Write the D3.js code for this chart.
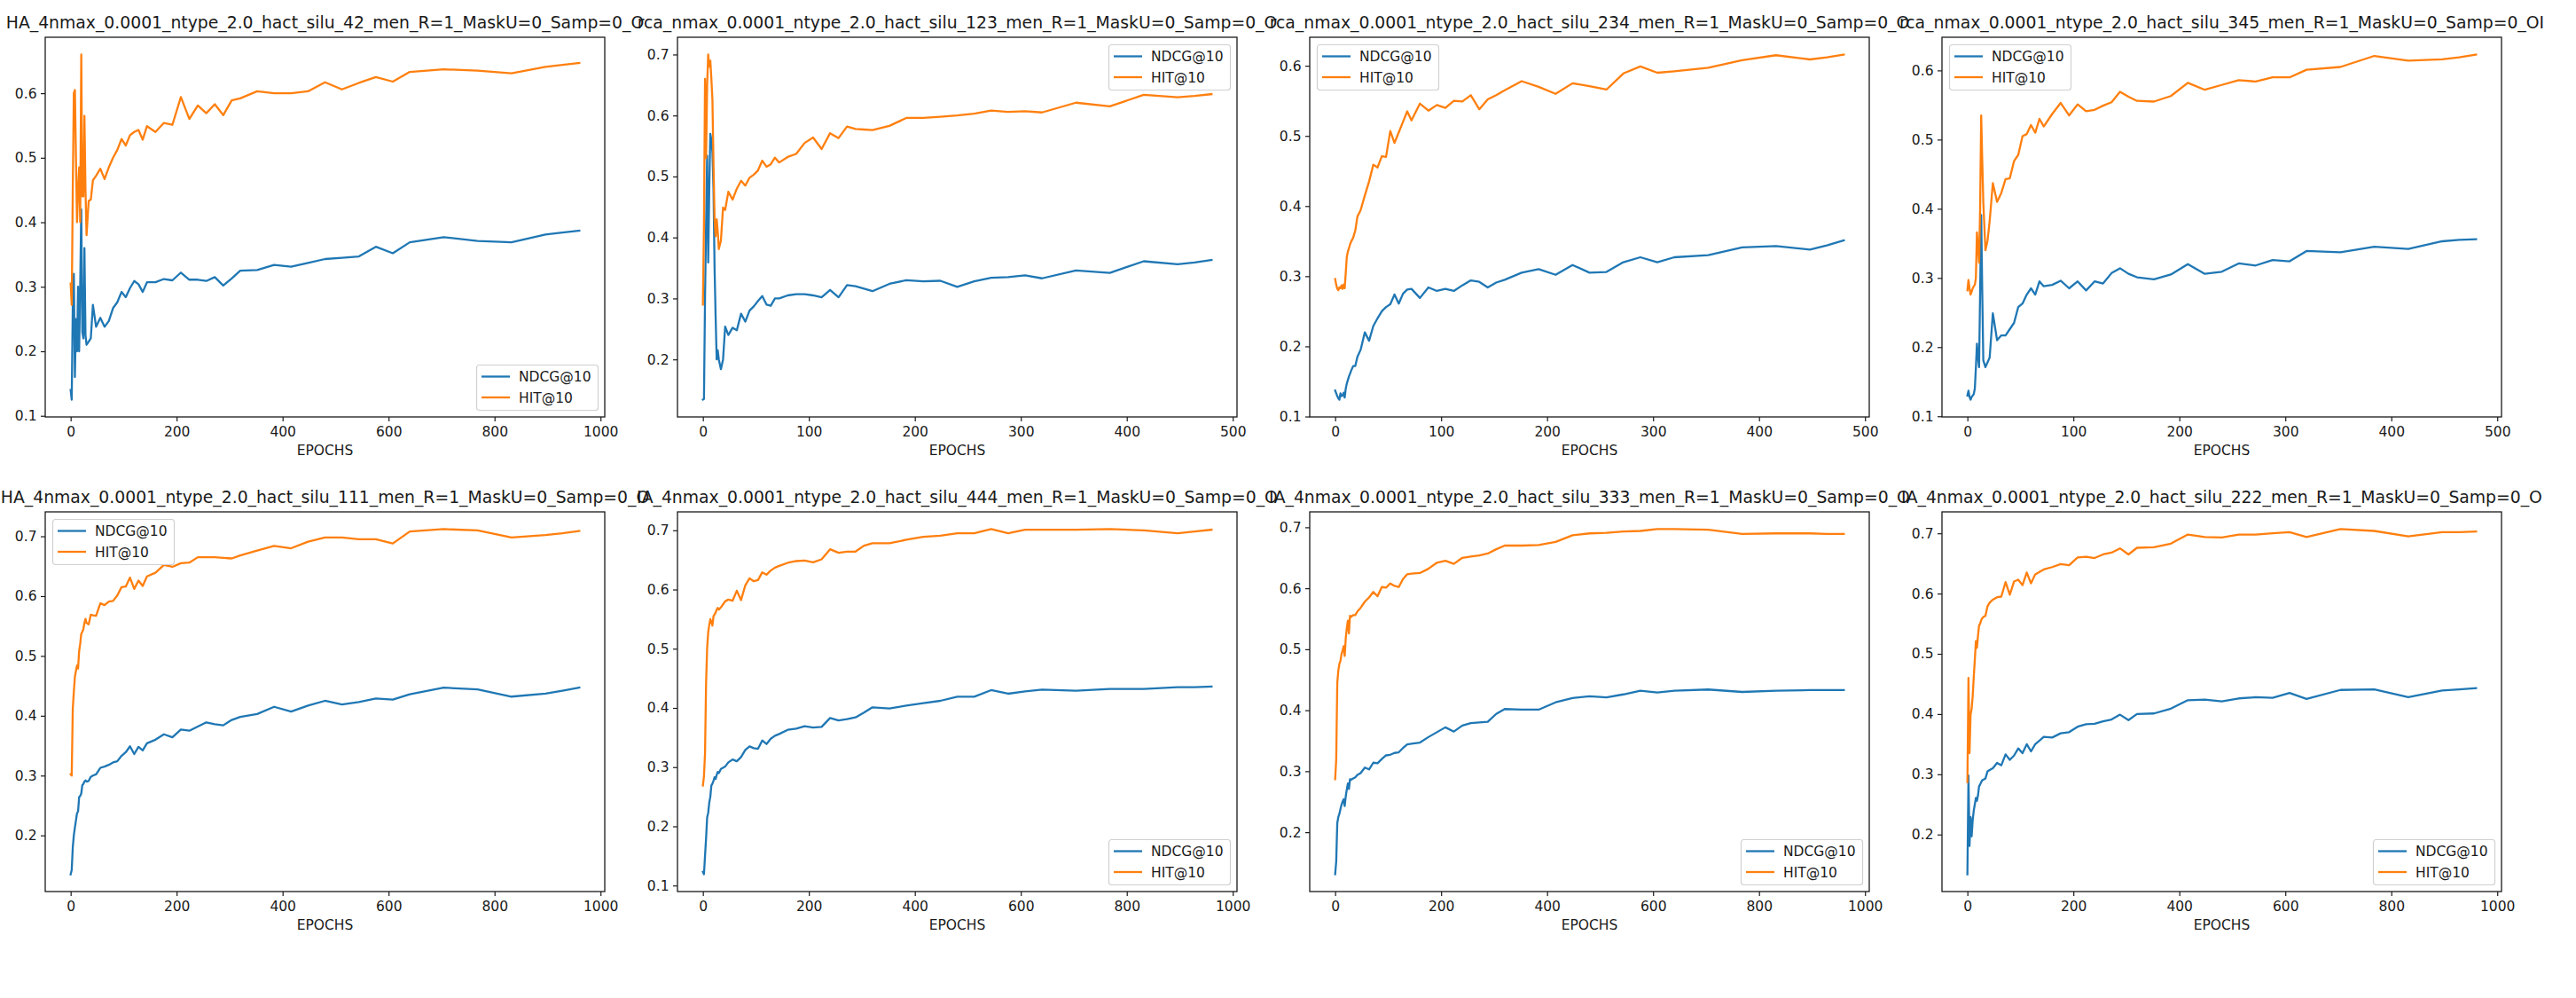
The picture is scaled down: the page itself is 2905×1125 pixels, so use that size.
<!DOCTYPE html>
<html>
<head>
<meta charset="utf-8">
<script src="https://cdn.jsdelivr.net/npm/d3@7"></script>
<style>
html, body { margin: 0; padding: 0; background: #fff; }
svg { display: block; font-family: "DejaVu Sans", sans-serif; }
</style>
</head>
<body>
<div id="chart"></div>
<script>
// figure size in px
let width = 2905;
let height = 1125;

// evaluation schedules (x values)
const epochsLong = [0,2,4,6,8,10,12,14,16,18,20,22,24,26,28,30,34,38,42,48,56,64,72,80,88,96,104,112,120,128,136,144,160,176,192,208,224,240,256,272,288,304,320,352,384,416,448,480,512,544,576,608,640,704,768,832,896,928,960];
const epochsShort = [0,1,2,3,4,5,6,7,8,9,10,11,12,13,14,15,17,19,21,24,28,32,36,40,44,48,52,56,60,64,68,72,80,88,96,104,112,120,128,136,144,152,160,176,192,208,224,240,256,272,288,304,320,352,384,416,448,464,480];

const xTicksLong = [0, 200, 400, 600, 800, 1000];
const xTicksShort = [0, 100, 200, 300, 400, 500];
const yTicks = [0.1, 0.2, 0.3, 0.4, 0.5, 0.6, 0.7];

const seriesNames = ["NDCG@10", "HIT@10"];
const seriesColors = ["#1f77b4", "#ff7f0e"];

const titles = [
    "HA_4nmax_0.0001_ntype_2.0_hact_silu_42_men_R=1_MaskU=0_Samp=0_O",
    "rca_nmax_0.0001_ntype_2.0_hact_silu_123_men_R=1_MaskU=0_Samp=0_O",
    "rca_nmax_0.0001_ntype_2.0_hact_silu_234_men_R=1_MaskU=0_Samp=0_O",
    "rca_nmax_0.0001_ntype_2.0_hact_silu_345_men_R=1_MaskU=0_Samp=0_OI",
    "HA_4nmax_0.0001_ntype_2.0_hact_silu_111_men_R=1_MaskU=0_Samp=0_O",
    "IA_4nmax_0.0001_ntype_2.0_hact_silu_444_men_R=1_MaskU=0_Samp=0_O",
    "IA_4nmax_0.0001_ntype_2.0_hact_silu_333_men_R=1_MaskU=0_Samp=0_O",
    "IA_4nmax_0.0001_ntype_2.0_hact_silu_222_men_R=1_MaskU=0_Samp=0_O",
];

// top row
const ndcg42 = [0.140,0.125,0.270,0.320,0.160,0.250,0.200,0.300,0.200,0.300,0.420,0.230,0.220,0.360,0.225,0.210,0.215,0.220,0.272,0.238,0.252,0.238,0.247,0.267,0.276,0.292,0.284,0.298,0.309,0.304,0.292,0.307,0.307,0.312,0.310,0.322,0.311,0.311,0.309,0.315,0.302,0.313,0.325,0.326,0.334,0.331,0.337,0.343,0.345,0.347,0.362,0.352,0.369,0.377,0.371,0.369,0.381,0.384,0.387];
const hit42 = [0.305,0.272,0.450,0.600,0.605,0.500,0.400,0.450,0.485,0.400,0.660,0.440,0.440,0.565,0.450,0.380,0.433,0.435,0.465,0.472,0.483,0.467,0.485,0.500,0.512,0.529,0.519,0.535,0.540,0.543,0.528,0.549,0.540,0.554,0.551,0.594,0.560,0.581,0.569,0.583,0.566,0.589,0.592,0.603,0.600,0.600,0.603,0.617,0.606,0.616,0.625,0.618,0.633,0.637,0.635,0.631,0.641,0.644,0.647];

const ndcg123 = [0.134,0.135,0.300,0.420,0.534,0.359,0.480,0.570,0.560,0.540,0.480,0.350,0.270,0.200,0.215,0.200,0.184,0.200,0.254,0.240,0.252,0.248,0.275,0.262,0.280,0.287,0.296,0.304,0.290,0.288,0.300,0.300,0.305,0.307,0.307,0.305,0.302,0.314,0.302,0.322,0.320,0.316,0.312,0.324,0.330,0.328,0.329,0.319,0.328,0.334,0.335,0.338,0.333,0.346,0.342,0.361,0.356,0.359,0.363];
const hit123 = [0.290,0.420,0.660,0.530,0.650,0.700,0.680,0.690,0.660,0.625,0.520,0.430,0.402,0.430,0.410,0.381,0.395,0.449,0.445,0.475,0.462,0.480,0.493,0.485,0.498,0.503,0.510,0.526,0.516,0.520,0.531,0.523,0.532,0.537,0.555,0.564,0.545,0.571,0.563,0.582,0.578,0.577,0.576,0.583,0.596,0.596,0.598,0.600,0.603,0.608,0.606,0.607,0.605,0.621,0.615,0.634,0.630,0.632,0.635];

const ndcg234 = [0.137,0.133,0.129,0.126,0.124,0.133,0.129,0.130,0.134,0.127,0.140,0.147,0.152,0.157,0.161,0.165,0.172,0.172,0.185,0.195,0.220,0.208,0.229,0.240,0.250,0.256,0.260,0.274,0.261,0.275,0.281,0.282,0.269,0.284,0.279,0.282,0.279,0.287,0.294,0.292,0.284,0.291,0.295,0.305,0.310,0.302,0.316,0.305,0.306,0.320,0.327,0.320,0.327,0.330,0.341,0.343,0.338,0.344,0.351];
const hit234 = [0.296,0.288,0.282,0.280,0.284,0.283,0.287,0.282,0.288,0.283,0.305,0.328,0.335,0.340,0.345,0.349,0.355,0.365,0.385,0.394,0.415,0.435,0.459,0.455,0.471,0.470,0.507,0.490,0.505,0.520,0.535,0.522,0.546,0.536,0.544,0.540,0.550,0.549,0.558,0.538,0.552,0.558,0.565,0.578,0.570,0.560,0.575,0.571,0.566,0.589,0.599,0.590,0.592,0.597,0.608,0.615,0.609,0.612,0.616];

const ndcg345 = [0.130,0.137,0.128,0.124,0.128,0.130,0.132,0.140,0.170,0.205,0.185,0.171,0.280,0.391,0.280,0.181,0.171,0.178,0.185,0.249,0.210,0.217,0.217,0.226,0.235,0.258,0.263,0.276,0.285,0.276,0.295,0.288,0.290,0.296,0.285,0.295,0.282,0.295,0.292,0.307,0.314,0.306,0.301,0.298,0.305,0.320,0.306,0.309,0.321,0.318,0.326,0.324,0.339,0.337,0.345,0.342,0.353,0.355,0.356];
const hit345 = [0.282,0.297,0.285,0.276,0.280,0.285,0.288,0.290,0.300,0.366,0.345,0.322,0.400,0.535,0.470,0.409,0.340,0.354,0.382,0.437,0.410,0.423,0.443,0.444,0.469,0.478,0.505,0.508,0.521,0.510,0.530,0.519,0.537,0.553,0.535,0.551,0.541,0.543,0.549,0.554,0.569,0.562,0.556,0.555,0.563,0.582,0.572,0.579,0.586,0.584,0.590,0.590,0.601,0.605,0.621,0.614,0.616,0.619,0.623];

// bottom row
const ndcg111 = [0.135,0.142,0.180,0.200,0.213,0.225,0.237,0.240,0.264,0.266,0.270,0.284,0.286,0.290,0.292,0.290,0.291,0.298,0.300,0.302,0.313,0.315,0.318,0.322,0.324,0.333,0.339,0.349,0.336,0.348,0.342,0.354,0.360,0.369,0.364,0.377,0.375,0.382,0.389,0.386,0.384,0.393,0.398,0.403,0.415,0.407,0.417,0.425,0.419,0.423,0.429,0.427,0.436,0.447,0.444,0.432,0.437,0.442,0.447];
const hit111 = [0.302,0.300,0.412,0.440,0.465,0.475,0.484,0.479,0.508,0.520,0.537,0.540,0.545,0.555,0.562,0.555,0.553,0.569,0.568,0.567,0.588,0.585,0.591,0.592,0.601,0.615,0.616,0.631,0.612,0.626,0.617,0.633,0.639,0.652,0.649,0.655,0.656,0.665,0.665,0.665,0.664,0.663,0.668,0.676,0.684,0.680,0.691,0.698,0.698,0.695,0.695,0.688,0.708,0.712,0.710,0.698,0.702,0.705,0.709];

const ndcg444 = [0.123,0.119,0.150,0.180,0.215,0.223,0.240,0.250,0.269,0.272,0.277,0.283,0.280,0.287,0.292,0.290,0.297,0.299,0.301,0.308,0.313,0.310,0.317,0.329,0.335,0.332,0.331,0.345,0.339,0.348,0.353,0.356,0.363,0.365,0.369,0.367,0.368,0.383,0.379,0.381,0.384,0.392,0.401,0.399,0.404,0.408,0.412,0.419,0.419,0.430,0.424,0.428,0.431,0.429,0.432,0.432,0.435,0.435,0.436];
const hit444 = [0.269,0.285,0.323,0.442,0.501,0.528,0.540,0.550,0.545,0.539,0.555,0.558,0.561,0.566,0.569,0.566,0.570,0.575,0.580,0.583,0.581,0.598,0.582,0.607,0.619,0.614,0.616,0.629,0.625,0.632,0.637,0.640,0.645,0.648,0.649,0.646,0.651,0.668,0.662,0.664,0.664,0.674,0.678,0.678,0.684,0.689,0.691,0.695,0.695,0.702,0.695,0.701,0.701,0.701,0.702,0.700,0.695,0.698,0.701];

const ndcg333 = [0.131,0.152,0.215,0.225,0.230,0.238,0.245,0.250,0.254,0.243,0.259,0.270,0.280,0.271,0.287,0.286,0.288,0.290,0.294,0.297,0.306,0.303,0.314,0.313,0.320,0.326,0.327,0.330,0.331,0.338,0.344,0.345,0.347,0.356,0.364,0.372,0.365,0.375,0.379,0.380,0.381,0.394,0.402,0.401,0.401,0.413,0.420,0.423,0.421,0.426,0.432,0.429,0.432,0.434,0.430,0.432,0.433,0.433,0.433];
const hit333 = [0.287,0.319,0.445,0.465,0.476,0.481,0.492,0.498,0.505,0.489,0.518,0.535,0.547,0.526,0.555,0.553,0.556,0.556,0.562,0.568,0.578,0.585,0.594,0.587,0.602,0.601,0.608,0.604,0.602,0.615,0.623,0.624,0.625,0.632,0.642,0.645,0.640,0.650,0.652,0.654,0.657,0.664,0.670,0.670,0.671,0.676,0.687,0.690,0.691,0.693,0.694,0.697,0.697,0.696,0.689,0.690,0.690,0.689,0.689];

const ndcg222 = [0.134,0.298,0.181,0.229,0.197,0.224,0.240,0.250,0.261,0.256,0.265,0.280,0.283,0.287,0.290,0.291,0.293,0.305,0.307,0.310,0.319,0.315,0.333,0.324,0.331,0.343,0.335,0.350,0.338,0.350,0.356,0.362,0.361,0.368,0.370,0.379,0.383,0.384,0.388,0.391,0.399,0.390,0.400,0.401,0.409,0.423,0.424,0.421,0.426,0.428,0.427,0.435,0.425,0.440,0.441,0.428,0.439,0.441,0.443];
const hit222 = [0.287,0.460,0.335,0.399,0.409,0.430,0.462,0.490,0.521,0.510,0.530,0.547,0.550,0.556,0.559,0.561,0.563,0.579,0.585,0.590,0.594,0.595,0.619,0.598,0.620,0.623,0.614,0.635,0.617,0.632,0.636,0.640,0.644,0.649,0.647,0.660,0.661,0.659,0.665,0.668,0.675,0.665,0.676,0.677,0.683,0.698,0.694,0.693,0.698,0.698,0.700,0.702,0.694,0.707,0.704,0.695,0.702,0.702,0.703];

// layout of the 2x4 grid
let colLeft = [51, 764, 1477, 2190];
let rowTop = [42, 577];
let axW = 631;
let axH = 428;

let panels = [
    {epochs: epochsLong,  ndcg: ndcg42,  hit: hit42,  xTicks: xTicksLong,  legend: 'lower right'},
    {epochs: epochsShort, ndcg: ndcg123, hit: hit123, xTicks: xTicksShort, legend: 'upper right'},
    {epochs: epochsShort, ndcg: ndcg234, hit: hit234, xTicks: xTicksShort, legend: 'upper left'},
    {epochs: epochsShort, ndcg: ndcg345, hit: hit345, xTicks: xTicksShort, legend: 'upper left'},
    {epochs: epochsLong,  ndcg: ndcg111, hit: hit111, xTicks: xTicksLong,  legend: 'upper left'},
    {epochs: epochsLong,  ndcg: ndcg444, hit: hit444, xTicks: xTicksLong,  legend: 'lower right'},
    {epochs: epochsLong,  ndcg: ndcg333, hit: hit333, xTicks: xTicksLong,  legend: 'lower right'},
    {epochs: epochsLong,  ndcg: ndcg222, hit: hit222, xTicks: xTicksLong,  legend: 'lower right'},
];

function legend(g, loc) {
    let w = 137, h = 51, pad = 8;
    let lx = loc.includes('right') ? axW - pad - w : pad;
    let ly = loc.includes('lower') ? axH - pad - h : pad;
    let lg = g.append('g').attr('transform', `translate(${lx},${ly})`);
    lg.append('rect')
        .attr('x', 0.5).attr('y', 0.5)
        .attr('width', w).attr('height', h)
        .attr('rx', 3).attr('ry', 3)
        .attr('fill', '#fff').attr('fill-opacity', 0.8)
        .attr('stroke', '#d0d0d0').attr('stroke-width', 1.2);
    seriesNames.forEach((name, i) => {
        let cy = 13.5 + i * 23.5;
        lg.append('line')
            .attr('x1', 6).attr('x2', 38)
            .attr('y1', cy).attr('y2', cy)
            .attr('stroke', seriesColors[i]).attr('stroke-width', 2.3);
        lg.append('text')
            .attr('x', 48).attr('y', cy).attr('dy', '0.36em')
            .attr('font-size', 15.5).attr('fill', '#1a1a1a')
            .text(name);
    });
}

function drawPanel(svg, p, title, x0, y0) {
    // matplotlib-style 5% margins around the data
    let xMin = d3.min(p.epochs), xMax = d3.max(p.epochs);
    let xPad = (xMax - xMin) * 0.05;
    let x = d3.scaleLinear().domain([xMin - xPad, xMax + xPad]).range([0, axW]);

    let all = p.ndcg.concat(p.hit);
    let lo = d3.min(all), hi = d3.max(all);
    let yPad = (hi - lo) * 0.05;
    let y = d3.scaleLinear().domain([lo - yPad, hi + yPad]).range([axH, 0]);

    let g = svg.append('g').attr('transform', `translate(${x0},${y0})`);

    let line = d3.line()
        .x((d, i) => x(p.epochs[i]))
        .y(d => y(d));

    [p.ndcg, p.hit].forEach((vals, k) => {
        g.append('path')
            .attr('d', line(vals))
            .attr('fill', 'none')
            .attr('stroke', seriesColors[k])
            .attr('stroke-width', 2.3)
            .attr('stroke-linejoin', 'round')
            .attr('stroke-linecap', 'square');
    });

    let xAxis = d3.axisBottom(x)
        .tickValues(p.xTicks)
        .tickSize(5).tickSizeOuter(0).tickPadding(6)
        .tickFormat(d3.format('d'));
    let yd = y.domain();
    let yAxis = d3.axisLeft(y)
        .tickValues(yTicks.filter(v => v >= yd[0] && v <= yd[1]))
        .tickSize(5).tickSizeOuter(0).tickPadding(4.5)
        .tickFormat(d3.format('.1f'));

    let gx = g.append('g').attr('transform', `translate(0,${axH})`).call(xAxis);
    let gy = g.append('g').call(yAxis);
    [gx, gy].forEach(a => {
        a.select('.domain').remove();
        a.selectAll('line').attr('stroke', '#1a1a1a').attr('stroke-width', 1.2);
        a.selectAll('text')
            .attr('font-size', 15.5)
            .attr('font-family', '"DejaVu Sans", sans-serif')
            .attr('fill', '#1a1a1a');
    });

    legend(g, p.legend);

    // spines
    g.append('rect')
        .attr('width', axW).attr('height', axH)
        .attr('fill', 'none')
        .attr('stroke', '#1a1a1a').attr('stroke-width', 1.3);

    g.append('text')
        .attr('x', axW / 2).attr('y', axH + 43)
        .attr('text-anchor', 'middle')
        .attr('font-size', 15.5).attr('fill', '#1a1a1a')
        .text('EPOCHS');

    g.append('text')
        .attr('x', axW / 2).attr('y', -10)
        .attr('text-anchor', 'middle')
        .attr('font-size', 18.8).attr('fill', '#1a1a1a')
        .text(title);
}

let svg = d3.select('#chart').append('svg')
    .attr('width', width)
    .attr('height', height)
    .attr('viewBox', `0 0 ${width} ${height}`);

svg.append('rect').attr('width', width).attr('height', height).attr('fill', '#fff');

panels.forEach((p, i) => {
    let col = i % 4, row = Math.floor(i / 4);
    drawPanel(svg, p, titles[i], colLeft[col], rowTop[row]);
});
</script>
</body>
</html>
